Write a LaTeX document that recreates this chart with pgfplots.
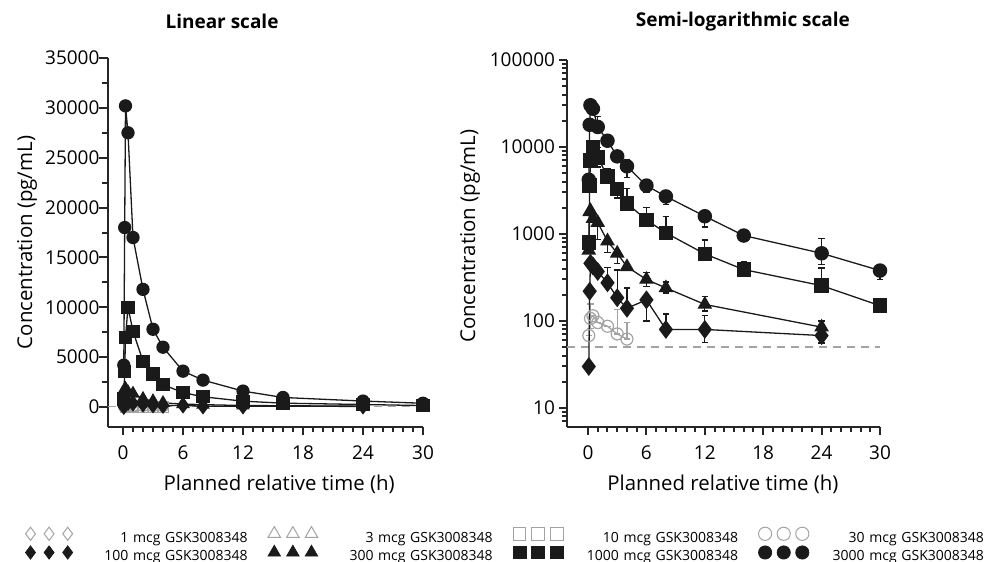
\documentclass[border=0pt]{standalone}
\usepackage{fontspec}
\setmainfont{Open Sans}
\usepackage{pgfplots}
\usepackage{pgfplotstable}
\pgfplotsset{compat=1.18}

\definecolor{mk}{HTML}{1A1A1A}
\definecolor{lq}{HTML}{A3A3A3}

% time (h), conc (pg/mL), error up, error down
\pgfplotstableread{
t c ep em
0.08 4200 0 0
0.17 18000 0 0
0.25 30200 0 0
0.5 27500 0 0
1 17000 5500 0
2 11800 1500 0
3 7800 0 1200
4 6000 1200 1500
6 3600 500 600
8 2700 400 500
12 1600 0 400
16 960 0 0
24 600 280 150
30 380 0 80
}\dThreeK
\pgfplotstableread{
t c ep em
0.08 800 0 0
0.17 3600 0 0
0.25 7000 0 0
0.5 10000 0 0
1 7600 2200 1700
2 4600 1000 600
3 3300 600 700
4 2250 1100 150
6 1450 550 0
8 1030 570 0
12 590 260 0
16 390 90 0
24 255 150 0
30 150 0 0
}\dOneK
\pgfplotstableread{
t c ep em
0.08 650 0 0
0.17 1800 0 0
0.25 1850 0 0
0.5 1500 0 0
1 1350 0 480
2 830 0 220
3 600 0 140
4 420 0 0
6 300 60 50
8 240 40 30
12 155 35 25
24 85 15 15
}\dThreeH
\pgfplotstableread{
t c ep em
0.08 30 0 0
0.17 220 0 0
0.25 460 0 0
0.5 430 0 0
1 370 0 0
2 275 135 0
3 185 200 0
4 140 100 0
6 175 0 75
8 80 40 0
12 80 35 23
24 68 30 12
}\dOneH
\pgfplotstableread{
t c ep em
0.08 68 0 0
0.25 107 50 25
0.5 115 0 0
1 96 0 0
2 87 0 0
3 71 65 0
4 62 35 0
}\dThirty
\pgfplotstableread{
t c
0.25 30
0.5 25
1 20
2 15
3 10
4 5
}\dTen

\pgfplotsset{
  pk/.style={
    scale only axis, clip=false,
    axis x line*=bottom, axis y line*=left,
    axis line style={-, line width=1bp, black!85},
    tick align=outside, major tick length=4bp, minor tick length=2.5bp,
    every tick/.style={line width=1bp, black!85},
    tick label style={font=\fontsize{9.5bp}{11bp}\selectfont},
    xticklabel style={yshift=-2bp},
    label style={font=\fontsize{10.2bp}{12bp}\selectfont},
    every axis title shift=0pt,
    xmax=30, xtick={0,6,...,30}, minor x tick num=5,
    xlabel={Planned relative time (h)},
    ylabel={Concentration (pg/mL)},
    /pgf/number format/assume math mode=true,
  },
  hi/.style={mk, line width=0.65bp, mark options={solid, fill=mk, draw=mk}},
  lo/.style={lq, line width=0.65bp, mark options={solid, fill=white, draw=lq, line width=0.6bp}},
  eb/.style={error bars/.cd, y dir=both, y explicit,
    error bar style={line width=0.65bp},
    error mark options={rotate=90, mark size=1.6bp, line width=0.65bp}},
}

\begin{document}
\begin{tikzpicture}
\path[use as bounding box] (0,0) rectangle (501bp,281bp);

% linear scale
\begin{axis}[pk,
  at={(53.75bp,67.5bp)}, anchor=south west,
  width=157.75bp, height=184.5bp,
  xmin=-1.55, ymin=-2000, ymax=35000,
  ytick={0,5000,...,35000}, minor y tick num=1,
  scaled y ticks=false,
  yticklabel style={xshift=3.5bp, /pgf/number format/.cd, fixed, 1000 sep={}},
  title={Linear scale},
  title style={at={(axis description cs:0.363,1.100)}, anchor=center,
    font=\bfseries\fontsize{9.5bp}{11bp}\selectfont},
  xlabel style={at={(axis description cs:0.544,-0.155)}, anchor=center},
  ylabel style={at={(axis description cs:-0.255,0.5)}, anchor=center},
]
\addplot[lq, dashed, dash pattern=on 4bp off 3bp, line width=0.8bp] coordinates {(-1.55,50) (30,50)};
\addplot[lo, mark=square, mark size=2.6bp] table[x=t, y=c] {\dTen};
\addplot[lo, mark=o, mark size=2.8bp] table[x=t, y=c] {\dThirty};
\addplot[hi, mark=diamond*, mark size=3.6bp] table[x=t, y=c] {\dOneH};
\addplot[hi, mark=triangle*, mark size=3.3bp] table[x=t, y=c] {\dThreeH};
\addplot[hi, mark=square*, mark size=3bp] table[x=t, y=c] {\dOneK};
\addplot[hi, mark=*, mark size=3bp] table[x=t, y=c] {\dThreeK};
\end{axis}

% semi-logarithmic scale
\begin{axis}[pk,
  at={(283.5bp,67.5bp)}, anchor=south west,
  width=156.5bp, height=183.5bp,
  xmin=-2.16, ymode=log, ymin=6.05, ymax=100000,
  ytick={10,100,1000,10000,100000},
  yticklabels={10,100,1000,10000,100000},
  minor ytick={7,8,9,20,30,40,50,60,70,80,90,200,300,400,500,600,700,800,900,
    2000,3000,4000,5000,6000,7000,8000,9000,20000,30000,40000,50000,60000,70000,80000,90000},
  yticklabel style={xshift=1.5bp},
  title={Semi-logarithmic scale},
  title style={at={(axis description cs:0.562,1.106)}, anchor=center,
    font=\bfseries\fontsize{9.5bp}{11bp}\selectfont},
  xlabel style={at={(axis description cs:0.498,-0.155)}, anchor=center},
  ylabel style={at={(axis description cs:-0.31,0.52)}, anchor=center},
]
\addplot[lq, dashed, dash pattern=on 4bp off 3bp, line width=0.8bp] coordinates {(-2.16,50) (30,50)};
\addplot[lo, mark=o, mark size=3bp, eb] table[x=t, y=c, y error plus=ep, y error minus=em] {\dThirty};
\addplot[hi, mark=diamond*, mark size=4.2bp, eb] table[x=t, y=c, y error plus=ep, y error minus=em] {\dOneH};
\addplot[hi, mark=triangle*, mark size=3.6bp, eb] table[x=t, y=c, y error plus=ep, y error minus=em] {\dThreeH};
\addplot[hi, mark=square*, mark size=3.3bp, eb] table[x=t, y=c, y error plus=ep, y error minus=em] {\dOneK};
\addplot[hi, mark=*, mark size=3.3bp, eb] table[x=t, y=c, y error plus=ep, y error minus=em] {\dThreeK};
\end{axis}

% legend
\begin{axis}[
  at={(0bp,0bp)}, anchor=south west, scale only axis,
  width=501bp, height=281bp, hide axis,
  xmin=0, xmax=1, ymin=0, ymax=1,
  legend columns=4,
  legend image code/.code={\draw[only marks, mark repeat=1, mark phase=1]
    plot coordinates {(0bp,2.5bp) (9.3bp,2.5bp) (18.6bp,2.5bp)};},
  legend style={at={(0.0255,0.063)}, anchor=north west,
    draw=none, fill=none, inner sep=0pt, outer sep=0pt,
    column sep=4.5bp, row sep=0pt,
    font=\fontsize{7bp}{8bp}\selectfont,
    nodes={inner sep=0pt, text width=83bp, align=right, text height=5bp, text depth=1.5bp},
    /tikz/every even column/.append style={column sep=10.2bp}},
]
\addlegendimage{lq, mark=diamond, mark size=3.3bp, mark options={fill=white, draw=lq, line width=0.5bp}}
\addlegendentry{1 mcg GSK3008348}
\addlegendimage{lq, mark=triangle, mark size=3.6bp, mark options={fill=white, draw=lq, line width=0.5bp}}
\addlegendentry{3 mcg GSK3008348}
\addlegendimage{lq, mark=square, mark size=3.2bp, mark options={fill=white, draw=lq, line width=0.5bp}}
\addlegendentry{10 mcg GSK3008348}
\addlegendimage{lq, mark=o, mark size=3.3bp, mark options={fill=white, draw=lq, line width=0.5bp}}
\addlegendentry{30 mcg GSK3008348}
\addlegendimage{mk, mark=diamond*, mark size=3.3bp, mark options={fill=mk, draw=mk}}
\addlegendentry{100 mcg GSK3008348}
\addlegendimage{mk, mark=triangle*, mark size=3.6bp, mark options={fill=mk, draw=mk}}
\addlegendentry{300 mcg GSK3008348}
\addlegendimage{mk, mark=square*, mark size=3.2bp, mark options={fill=mk, draw=mk}}
\addlegendentry{1000 mcg GSK3008348}
\addlegendimage{mk, mark=*, mark size=3.3bp, mark options={fill=mk, draw=mk}}
\addlegendentry{3000 mcg GSK3008348}
\end{axis}
\end{tikzpicture}
\end{document}
